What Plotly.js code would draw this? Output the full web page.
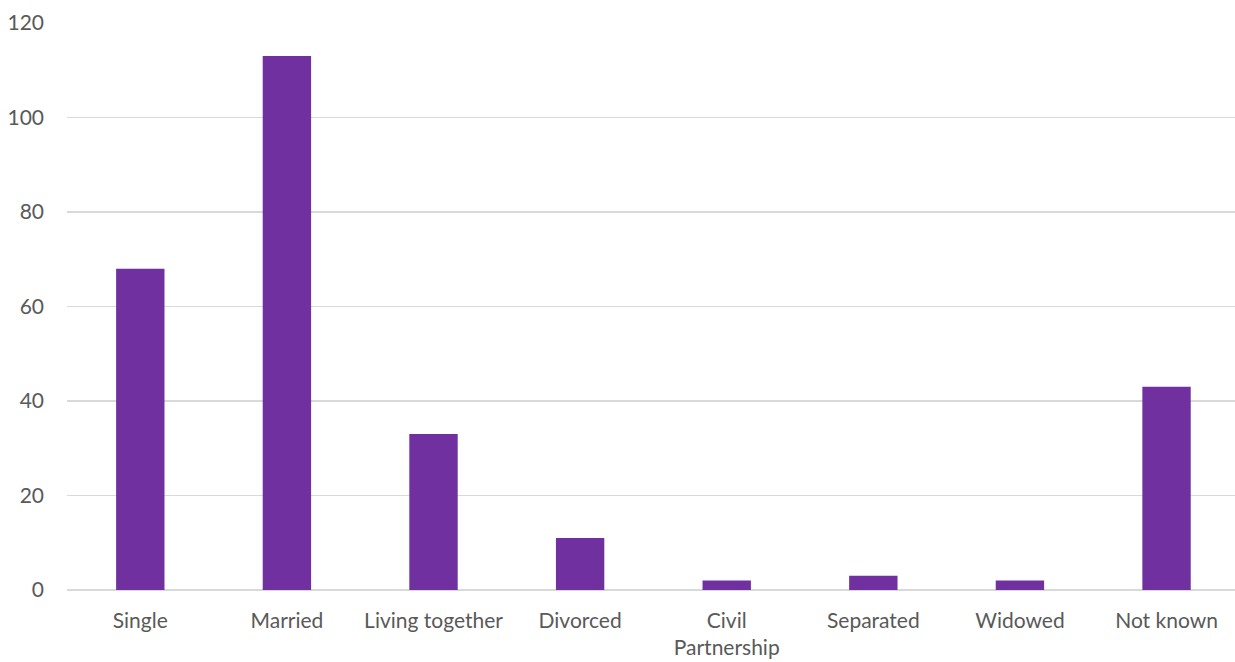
<!DOCTYPE html>
<html>
<head>
<meta charset="utf-8">
<script src="https://cdn.plot.ly/plotly-3.0.1.min.js"></script>
<style>html,body{margin:0;padding:0;background:#fff;}#chart{width:1235px;height:662px;}</style>
</head>
<body>
<div id="chart"></div>
<script>
const categories = ["Single", "Married", "Living together", "Divorced", "Civil<br>Partnership", "Separated", "Widowed", "Not known"];
const counts = [68, 113, 33, 11, 2, 3, 2, 43];
const yTicks = [0, 20, 40, 60, 80, 100, 120];

const trace = {
  type: "bar",
  x: categories,
  y: counts,
  marker: {color: "#7030a0"},
  hoverinfo: "x+y"
};

const layout = {
  width: 1235,
  height: 662,
  margin: {l: 67, r: 0, t: 23, b: 72},
  paper_bgcolor: "#ffffff",
  plot_bgcolor: "#ffffff",
  showlegend: false,
  bargap: 0.67,
  font: {family: "Lato, 'Open Sans', sans-serif", size: 21, color: "#595959"},
  xaxis: {
    type: "category",
    range: [-0.5, 7.467],
    showgrid: false,
    showline: false,
    zeroline: false,
    ticks: "",
    ticklabelstandoff: 16,
    tickfont: {size: 21, color: "#595959"}
  },
  yaxis: {
    range: [0, 120],
    tickvals: yTicks,
    ticktext: yTicks.map(String),
    showgrid: true,
    gridcolor: "#d9d9d9",
    gridwidth: 1.3,
    zeroline: true,
    zerolinecolor: "#d9d9d9",
    zerolinewidth: 1.3,
    showline: false,
    ticks: "",
    ticklabelstandoff: 22,
    tickfont: {size: 21, color: "#595959"}
  }
};

Plotly.newPlot("chart", [trace], layout, {displayModeBar: false, staticPlot: true});
</script>
</body>
</html>
